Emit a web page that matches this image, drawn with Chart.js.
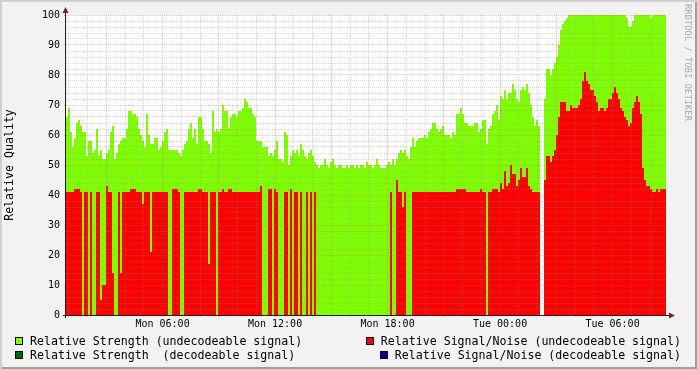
<!DOCTYPE html>
<html><head><meta charset="utf-8">
<script src="https://cdn.jsdelivr.net/npm/chart.js@4/dist/chart.umd.min.js"></script>
<style>
html,body{margin:0;padding:0;background:#F2F2F2;}
#wrap{position:relative;width:697px;height:369px;background:#F2F2F2;box-shadow:inset 2px 2px 0 #CFCFCF, inset -2px -2px 0 #9E9E9E;overflow:hidden;font-family:'DejaVu Sans Mono',monospace;}
canvas{position:absolute;left:0;top:0;}
.lg{position:absolute;display:flex;align-items:center;font-size:11.6px;line-height:14px;height:14px;white-space:pre;color:#000;}
.box{display:inline-block;width:6px;height:6px;border:1px solid #000;margin-right:7px;}
#wm{position:absolute;left:683px;top:4px;writing-mode:vertical-rl;font-size:8.5px;color:#A8A8A8;white-space:pre;letter-spacing:0.2px;}
</style></head>
<body>
<div id="wrap">
<canvas id="c" width="697" height="369"></canvas>
<div id="wm">RRDTOOL / TOBI OETIKER</div>
</div>
<script>
// ---- data (minutes since Mon 00:00, one sample every stepMinutes) ----
const startMinute = 51;
const stepMinutes = 6.4;

const strengthUndecoded = [
66,69,61,56,59,64,65,63,61,61,
53,58,58,54,55,62,53,55,52,52,
54,55,61,63,52,54,57,58,59,59,
62,68,68,67,67,66,62,60,58,56,
67,60,57,57,59,59,55,56,58,61,
62,55,55,55,55,55,54,53,55,57,
58,62,64,59,62,57,66,66,62,58,
58,57,54,68,61,62,61,62,70,68,
68,62,66,67,67,66,68,68,69,72,
71,69,69,67,66,58,58,58,56,56,
56,53,54,53,55,58,52,52,51,61,
60,50,53,55,54,55,53,57,55,53,
52,54,55,53,51,50,49,50,50,52,
50,49,51,52,50,49,50,50,49,49,
50,49,50,50,49,50,49,50,50,49,
51,50,50,49,50,52,50,49,49,49,
50,51,50,52,50,52,54,55,54,55,
53,52,56,59,56,58,59,59,59,60,
59,61,62,64,64,62,61,62,63,60,
60,60,59,61,60,67,67,69,67,64,
64,63,63,63,64,64,61,62,65,65,
57,62,63,67,68,70,65,73,72,75,
72,74,74,77,75,72,71,75,76,75,
77,74,70,66,63,65,63,null,null,72,
82,82,80,82,84,86,90,95,97,98,
99,100,100,100,100,100,100,100,100,100,
100,100,100,100,100,100,100,100,100,100,
100,100,100,100,100,100,100,100,100,100,
99,96,96,98,100,100,100,100,100,100,
100,100,99,100,100,100,100,100,100,100
];

const snrUndecoded = [
41,41,41,41,42,42,42,41,0,41,
41,0,41,0,0,41,41,5,10,10,
43,41,41,14,0,0,41,14,41,41,
41,41,42,42,42,41,41,41,37,41,
41,41,21,41,41,41,41,41,41,41,
41,0,0,42,42,42,41,0,0,41,
41,41,41,41,41,41,42,42,41,41,
41,17,41,41,41,0,41,41,42,41,
41,42,42,41,41,41,41,41,41,41,
41,41,41,41,41,41,41,43,0,0,
0,42,42,0,42,41,0,0,0,41,
41,0,42,0,41,41,0,41,0,0,
41,0,41,0,41,0,0,0,0,0,
0,0,0,0,0,0,0,0,0,0,
0,0,0,0,0,0,0,0,0,0,
0,0,0,0,0,0,0,0,0,0,
0,0,41,0,0,45,41,41,36,41,
0,0,0,41,41,41,41,41,41,41,
41,41,41,41,41,41,41,41,41,41,
41,41,41,41,41,42,42,42,42,42,
41,41,41,41,41,41,41,42,41,41,
0,41,41,42,42,42,41,44,42,48,
43,44,50,47,47,43,45,49,46,46,
49,43,42,41,41,41,41,null,null,45,
53,53,51,53,55,60,66,71,71,71,
68,68,70,69,69,69,70,72,78,81,
78,77,75,75,73,71,68,69,69,68,
69,72,72,74,76,74,72,69,68,66,
65,63,64,69,71,73,71,67,49,45,
43,43,42,41,41,42,41,42,42,42
];

const strengthDecoded = [];
const snrDecoded = [];

const tickMinutes = [360, 720, 1080, 1440, 1800];
const tickLabels = ['Mon 06:00', 'Mon 12:00', 'Mon 18:00', 'Tue 00:00', 'Tue 06:00'];

const seriesNames = [
  'Relative Strength (undecodeable signal)',
  'Relative Signal/Noise (undecodeable signal)',
  'Relative Strength  (decodeable signal)',
  'Relative Signal/Noise (decodeable signal)'
];
const seriesColors = ['#80FF00', '#FF0000', '#006600', '#000099'];

// ---- helpers ----
function toPoints(vals) {
  const pts = [];
  for (let i = 0; i < vals.length; i++) {
    const x = startMinute + i * stepMinutes;
    pts.push({x: x, y: vals[i]});
    if (vals[i] !== null && (i === vals.length - 1 || vals[i + 1] === null)) {
      pts.push({x: x + stepMinutes, y: vals[i]});
    }
  }
  return pts;
}
const endMinute = startMinute + strengthUndecoded.length * stepMinutes;
const hourTicks = [];
for (let m = Math.ceil(startMinute / 60) * 60; m <= endMinute; m += 60) hourTicks.push(m);

const GRID_MINOR = 'rgba(143,143,143,0.36)';
const GRID_MAJOR = 'rgba(222,79,79,0.38)';

function ds(label, vals, color, order) {
  return {
    label: label, data: toPoints(vals), order: order,
    stepped: true, fill: 'origin', backgroundColor: color,
    borderColor: 'rgba(0,0,0,0)', borderWidth: 0, pointRadius: 0,
    spanGaps: false
  };
}

const bgPlugin = {
  id: 'plotbg',
  beforeDraw(chart) {
    const {ctx, chartArea: a} = chart;
    ctx.save(); ctx.fillStyle = '#FFFFFF';
    ctx.fillRect(a.left, a.top, a.right - a.left, a.bottom - a.top);
    ctx.restore();
  }
};
const axisPlugin = {
  id: 'axes',
  afterDraw(chart) {
    const {ctx, chartArea: a} = chart;
    ctx.save();
    ctx.strokeStyle = '#1F1F1F'; ctx.lineWidth = 1;
    ctx.beginPath();
    ctx.moveTo(a.left - 0.5, a.bottom + 3); ctx.lineTo(a.left - 0.5, a.top - 4);
    ctx.moveTo(a.left - 3, a.bottom + 0.5); ctx.lineTo(a.right + 4, a.bottom + 0.5);
    ctx.stroke();
    ctx.fillStyle = '#801F1F';
    ctx.beginPath();
    ctx.moveTo(a.left - 0.5, a.top - 8); ctx.lineTo(a.left - 3.5, a.top - 2); ctx.lineTo(a.left + 2.5, a.top - 2);
    ctx.closePath(); ctx.fill();
    ctx.beginPath();
    ctx.moveTo(a.right + 9, a.bottom + 0.5); ctx.lineTo(a.right + 3, a.bottom - 2.5); ctx.lineTo(a.right + 3, a.bottom + 3.5);
    ctx.closePath(); ctx.fill();
    ctx.restore();
  }
};

Chart.defaults.font.family = "'DejaVu Sans Mono', monospace";
Chart.defaults.color = '#000';

new Chart(document.getElementById('c'), {
  type: 'line',
  data: {
    datasets: [
      ds(seriesNames[0], strengthUndecoded, seriesColors[0], 4),
      ds(seriesNames[1], snrUndecoded, seriesColors[1], 3),
      ds(seriesNames[2], strengthDecoded, seriesColors[2], 2),
      ds(seriesNames[3], snrDecoded, seriesColors[3], 1)
    ]
  },
  options: {
    responsive: false, animation: false, devicePixelRatio: 1,
    layout: {padding: {left: 0, top: 15, right: 31, bottom: 0}},
    plugins: {legend: {display: false}, tooltip: {enabled: false}},
    events: [],
    scales: {
      x: {
        type: 'linear', min: startMinute, max: endMinute,
        afterBuildTicks(s) { s.ticks = hourTicks.map(v => ({value: v})); },
        afterFit(s) { s.height = 54; },
        ticks: {
          autoSkip: false, maxRotation: 0, minRotation: 0, padding: 1,
          font: {size: 10}, color: '#000',
          callback(v) { const k = tickMinutes.indexOf(v); return k >= 0 ? tickLabels[k] : ''; }
        },
        grid: {
          z: 1, lineWidth: 1, tickLength: 2,
          color: c => (c.tick && c.tick.value % 180 === 0) ? GRID_MAJOR : GRID_MINOR,
          tickColor: c => (c.tick && c.tick.value % 180 === 0) ? GRID_MAJOR : GRID_MINOR
        },
        border: {display: false, dash: [1, 1]}
      },
      y: {
        type: 'linear', min: 0, max: 100,
        afterFit(s) { s.width = 66; },
        ticks: {
          stepSize: 2, autoSkip: false, padding: 4, font: {size: 10}, color: '#000',
          callback(v) { return v % 10 === 0 ? String(v) : ''; }
        },
        grid: {
          z: 1, lineWidth: 1, tickLength: 2,
          color: c => (c.tick && c.tick.value % 10 === 0) ? GRID_MAJOR : GRID_MINOR,
          tickColor: c => (c.tick && c.tick.value % 10 === 0) ? GRID_MAJOR : 'rgba(0,0,0,0)'
        },
        border: {display: false, dash: [1, 1]},
        title: {display: true, text: 'Relative Quality', font: {size: 11.6}, color: '#000', padding: {top: 3, bottom: 0}}
      }
    }
  },
  plugins: [bgPlugin, axisPlugin]
});

// ---- legend (HTML text) ----
const wrap = document.getElementById('wrap');
const legendSlots = [
  {left: 15, top: 334}, {right: 16, top: 334},
  {left: 15, top: 348}, {right: 16, top: 348}
];
seriesNames.forEach((name, i) => {
  const d = document.createElement('div');
  d.className = 'lg';
  const p = legendSlots[i];
  if (p.left !== undefined) d.style.left = p.left + 'px'; else d.style.right = p.right + 'px';
  d.style.top = p.top + 'px';
  const b = document.createElement('span');
  b.className = 'box'; b.style.background = seriesColors[i];
  const t = document.createElement('span');
  t.textContent = name;
  d.appendChild(b); d.appendChild(t);
  wrap.appendChild(d);
});
</script>
</body></html>
